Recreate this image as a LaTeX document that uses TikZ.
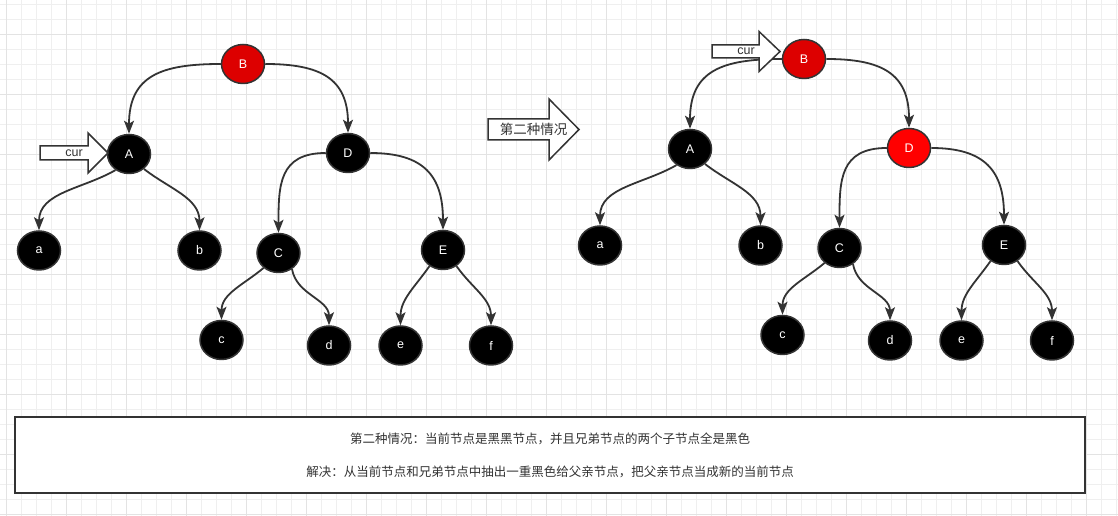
\documentclass[tikz,border=0pt]{standalone}
\usepackage{fontspec}
\setmainfont{Liberation Sans}
\newfontfamily\cjk{Noto Sans CJK SC}
\usetikzlibrary{shapes.geometric,arrows.meta}

\definecolor{linegray}{HTML}{333333}
\definecolor{darkred}{HTML}{DD0000}
\definecolor{brightred}{HTML}{FF0000}
\definecolor{gridminor}{HTML}{EFEFEF}
\definecolor{gridmajor}{HTML}{E3E3E3}

\tikzset{
  rb/.style={ellipse, draw=linegray, line width=1.5pt, fill=black, text=white,
    minimum width=43pt, minimum height=39pt, inner sep=0pt,
    font=\fontsize{12.5}{14}\selectfont},
  red/.style={rb, fill=darkred},
  redhot/.style={rb, fill=brightred},
  link/.style={draw=linegray, line width=1.8pt,
    -{Stealth[length=13pt,width=10pt,inset=3pt]}},
  bigarrow/.style={draw=linegray, line width=1.5pt, fill=white, line join=miter},
  label/.style={text=linegray, inner sep=0pt, font=\fontsize{12.5}{14}\selectfont},
}

\begin{document}
\begin{tikzpicture}[x=1pt, y=1pt]
    \useasboundingbox (0,0) rectangle (1118,516);
    \fill[white] (0,0) rectangle (1118,516);
    \begin{scope}
        \clip (0,0) rectangle (1118,516);
        \draw[gridminor, line width=0.8pt, shift={(6.7,2)}] (-15,-15) grid[step=15] (1125,525);
        \draw[gridmajor, line width=0.8pt, shift={(6.7,2)}] (-60,-60) grid[step=60] (1125,525);
    \end{scope}

    % before
    \node[red] (B) at (243,452) {B};
    \node[rb] (A) at ([shift={(-114,-90)}] B) {A};
    \node[rb] (D) at ([shift={(105,-89)}] B) {D};
    \node[rb] (a) at ([shift={(-90,-96.5)}] A) {a};
    \node[rb] (b) at ([shift={(70.5,-96.5)}] A) {b};
    \node[rb] (C) at ([shift={(-69.5,-100)}] D) {C};
    \node[rb] (E) at ([shift={(95,-97)}] D) {E};
    \node[rb] (c) at ([shift={(-57,-87)}] C) {c};
    \node[rb] (d) at ([shift={(50.5,-92.5)}] C) {d};
    \node[rb] (e) at ([shift={(-42.5,-95.5)}] E) {e};
    \node[rb] (f) at ([shift={(48,-95.5)}] E) {f};

    \draw[link] (B.west) to[out=180, in=90, looseness=1.3] (A.north);
    \draw[link] (B.east) to[out=0, in=90, looseness=1.3] (D.north);
    \draw[link] (A.-130) to[out=-150, in=90] (a.north);
    \draw[link] (A.-45) to[out=-38, in=90] (b.north);
    \draw[link] (D.west) to[out=180, in=90, looseness=1.3] (C.north);
    \draw[link] (D.east) to[out=0, in=90, looseness=1.3] (E.north);
    \draw[link] (C.-135) to[out=-140, in=90] (c.north);
    \draw[link] (C.-50) to[out=-80, in=90] (d.north);
    \draw[link] (E.-130) to[out=-125, in=90] (e.north);
    \draw[link] (E.-50) to[out=-55, in=90] (f.north);

    \draw[bigarrow] (40,370) -- (88,370) -- (88,383) -- (108,363) -- (88,343) -- (88,356) -- (40,356) -- cycle;
    \node[label] (cur) at (74,363) {cur};

    % step
    \draw[bigarrow] (488,397) -- (549,397) -- (549,417) -- (579,386.5) -- (549,356) -- (549,376) -- (488,376) -- cycle;
    \node[label, font=\fontsize{13.5}{15}\selectfont] (case) at (533.5,386.5) {\cjk 第二种情况};

    % after
    \node[red] (B2) at (804,457) {B};
    \node[rb] (A2) at ([shift={(-114,-90)}] B2) {A};
    \node[redhot] (D2) at ([shift={(105,-89)}] B2) {D};
    \node[rb] (a2) at ([shift={(-90,-96.5)}] A2) {a};
    \node[rb] (b2) at ([shift={(70.5,-96.5)}] A2) {b};
    \node[rb] (C2) at ([shift={(-69.5,-100)}] D2) {C};
    \node[rb] (E2) at ([shift={(95,-97)}] D2) {E};
    \node[rb] (c2) at ([shift={(-57,-87)}] C2) {c};
    \node[rb] (d2) at ([shift={(50.5,-92.5)}] C2) {d};
    \node[rb] (e2) at ([shift={(-42.5,-95.5)}] E2) {e};
    \node[rb] (f2) at ([shift={(48,-95.5)}] E2) {f};

    \draw[link] (B2.west) to[out=180, in=90, looseness=1.3] (A2.north);
    \draw[link] (B2.east) to[out=0, in=90, looseness=1.3] (D2.north);
    \draw[link] (A2.-130) to[out=-150, in=90] (a2.north);
    \draw[link] (A2.-45) to[out=-38, in=90] (b2.north);
    \draw[link] (D2.west) to[out=180, in=90, looseness=1.3] (C2.north);
    \draw[link] (D2.east) to[out=0, in=90, looseness=1.3] (E2.north);
    \draw[link] (C2.-135) to[out=-140, in=90] (c2.north);
    \draw[link] (C2.-50) to[out=-80, in=90] (d2.north);
    \draw[link] (E2.-130) to[out=-125, in=90] (e2.north);
    \draw[link] (E2.-50) to[out=-55, in=90] (f2.north);

    \draw[bigarrow] (712,471) -- (759,471) -- (759,484.5) -- (780,464.5) -- (759,444.5) -- (759,458) -- (712,458) -- cycle;
    \node[label] (cur2) at (746,464.5) {cur};

    % note
    \node[draw=linegray, line width=2pt, fill=white, minimum width=1070pt, minimum height=76pt] (note) at (550,61) {};
    \node[label] (rule) at ([yshift=16] note.center) {\cjk 第二种情况：当前节点是黑黑节点，并且兄弟节点的两个子节点全是黑色};
    \node[label] (fix) at ([yshift=-17] note.center) {\cjk 解决：从当前节点和兄弟节点中抽出一重黑色给父亲节点，把父亲节点当成新的当前节点};
\end{tikzpicture}
\end{document}
